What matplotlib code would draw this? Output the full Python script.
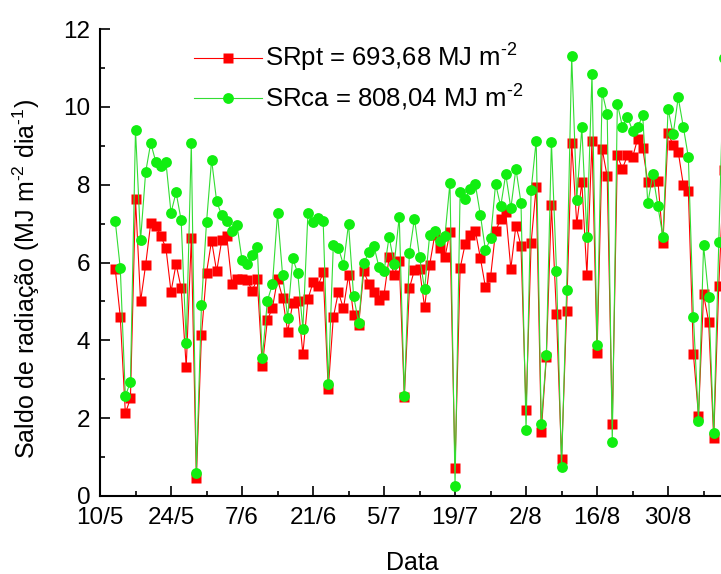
import pandas as pd
import matplotlib.pyplot as plt
from matplotlib.ticker import MultipleLocator

plt.rcParams['font.family'] = ['Liberation Sans', 'DejaVu Sans']
plt.rcParams['mathtext.fontset'] = 'custom'
plt.rcParams['mathtext.rm'] = 'Liberation Sans'
plt.rcParams['mathtext.it'] = 'Liberation Sans:italic'
plt.rcParams['mathtext.default'] = 'regular'

# daily net radiation, 13/5 to 10/9
dates = pd.date_range('2011-05-13', '2011-09-10', freq='D')

sr_pt = [5.84, 4.60, 2.12, 2.51, 7.63, 5.00, 5.94, 7.01, 6.95, 6.68,
         6.37, 5.25, 5.96, 5.34, 3.31, 6.62, 0.45, 4.13, 5.74, 6.56,
         5.77, 6.57, 6.67, 5.45, 5.58, 5.57, 5.55, 5.28, 5.57, 3.34,
         4.52, 4.84, 5.57, 5.10, 4.22, 4.95, 5.02, 3.65, 5.06, 5.49,
         5.40, 5.75, 2.74, 4.59, 5.24, 4.82, 5.68, 4.65, 4.40, 5.77,
         5.45, 5.23, 5.04, 5.17, 6.13, 5.68, 6.04, 2.55, 5.34, 5.81,
         5.83, 4.85, 5.94, 6.71, 6.37, 6.13, 6.78, 0.73, 5.85, 6.48,
         6.71, 6.82, 6.11, 5.36, 5.62, 6.81, 7.11, 7.29, 5.84, 6.95,
         6.43, 2.20, 6.50, 7.95, 1.65, 3.56, 7.48, 4.67, 0.95, 4.76,
         9.07, 6.99, 8.06, 5.68, 9.13, 3.67, 8.92, 8.21, 1.85, 8.75,
         8.41, 8.75, 8.70, 9.18, 8.94, 8.06, 8.10, 8.10, 6.51, 9.32,
         9.02, 8.85, 8.00, 7.84, 3.65, 2.06, 5.18, 4.48, 1.48, 5.40,
         8.38]

sr_ca = [7.07, 5.85, 2.57, 2.93, 9.41, 6.58, 8.32, 9.07, 8.59, 8.47,
         8.58, 7.28, 7.80, 7.09, 3.92, 9.07, 0.60, 4.91, 7.03, 8.64,
         7.57, 7.21, 7.07, 6.82, 6.97, 6.07, 5.97, 6.18, 6.41, 3.54,
         5.02, 5.44, 7.26, 5.68, 4.58, 6.11, 5.72, 4.29, 7.28, 7.03,
         7.15, 7.07, 2.88, 6.44, 6.38, 5.94, 6.99, 5.14, 4.44, 5.98,
         6.26, 6.43, 5.88, 5.78, 6.66, 5.96, 7.17, 2.57, 6.24, 7.13,
         6.15, 5.31, 6.71, 6.80, 6.56, 6.67, 8.05, 0.26, 7.81, 7.63,
         7.89, 8.01, 7.22, 6.31, 6.62, 8.02, 7.44, 8.27, 7.39, 8.41,
         7.54, 1.70, 7.86, 9.13, 1.84, 3.62, 9.10, 5.79, 0.74, 5.30,
         11.30, 7.61, 9.47, 6.66, 10.84, 3.87, 10.38, 9.82, 1.38, 10.08,
         9.49, 9.75, 9.38, 9.47, 9.78, 7.52, 8.27, 7.44, 6.65, 9.95,
         9.29, 10.24, 9.49, 8.71, 4.61, 1.94, 6.44, 5.12, 1.61, 6.53,
         11.25]

tick_dates = pd.date_range('2011-05-10', '2011-08-30', freq='14D')
tick_labels = ['10/5', '24/5', '7/6', '21/6', '5/7', '19/7', '2/8', '16/8', '30/8']
minor_dates = pd.date_range('2011-05-17', '2011-09-06', freq='14D')
x_start, x_end = pd.Timestamp('2011-05-10'), pd.Timestamp('2011-09-12')

fig = plt.figure(figsize=(7.21, 5.74), dpi=100)
ax = fig.add_axes([100 / 721, 78 / 574, 634 / 721, 467 / 574])

ax.plot(dates, sr_pt, color='#ff0000', lw=0.8, marker='s', ms=7,
        mec='none', label=r'SRpt = 693,68 MJ m$^{\text{-}2}$')
ax.plot(dates, sr_ca, color='#33dd33', lw=0.8, marker='o', ms=7.8,
        mfc='#11ee11', mec='none', label=r'SRca = 808,04 MJ m$^{\text{-}2}$')

ax.set_xlim(x_start, x_end)
ax.set_ylim(0, 12)
ax.set_xticks(tick_dates)
ax.set_xticklabels(tick_labels)
ax.set_xticks(minor_dates, minor=True)
ax.yaxis.set_major_locator(MultipleLocator(2))
ax.yaxis.set_minor_locator(MultipleLocator(1))

for side in ['top', 'right']:
    ax.spines[side].set_visible(False)
for side in ['left', 'bottom']:
    ax.spines[side].set_linewidth(1.5)

ax.tick_params(which='both', direction='in', width=1.2, labelsize=17.5)
ax.tick_params(axis='x', pad=8)
ax.tick_params(axis='y', pad=7)
ax.tick_params(which='major', length=7)
ax.tick_params(which='minor', length=3.5)

ax.set_xlabel('Data', fontsize=18)
ax.set_ylabel(r'Saldo de radiação (MJ m$^{\text{-}2}$ dia$^{\text{-}1}$)', fontsize=18)
ax.xaxis.set_label_coords(0.493, -0.118)
ax.yaxis.set_label_coords(-0.092, 0.465)

ax.legend(loc='upper left', bbox_to_anchor=(194 / 721, 1 - 42 / 574),
          bbox_transform=fig.transFigure, frameon=False, fontsize=18.5,
          borderpad=0, borderaxespad=0, handlelength=2.65, handletextpad=0.1,
          labelspacing=0.35, numpoints=1)

fig.savefig('out.png', dpi=100)
